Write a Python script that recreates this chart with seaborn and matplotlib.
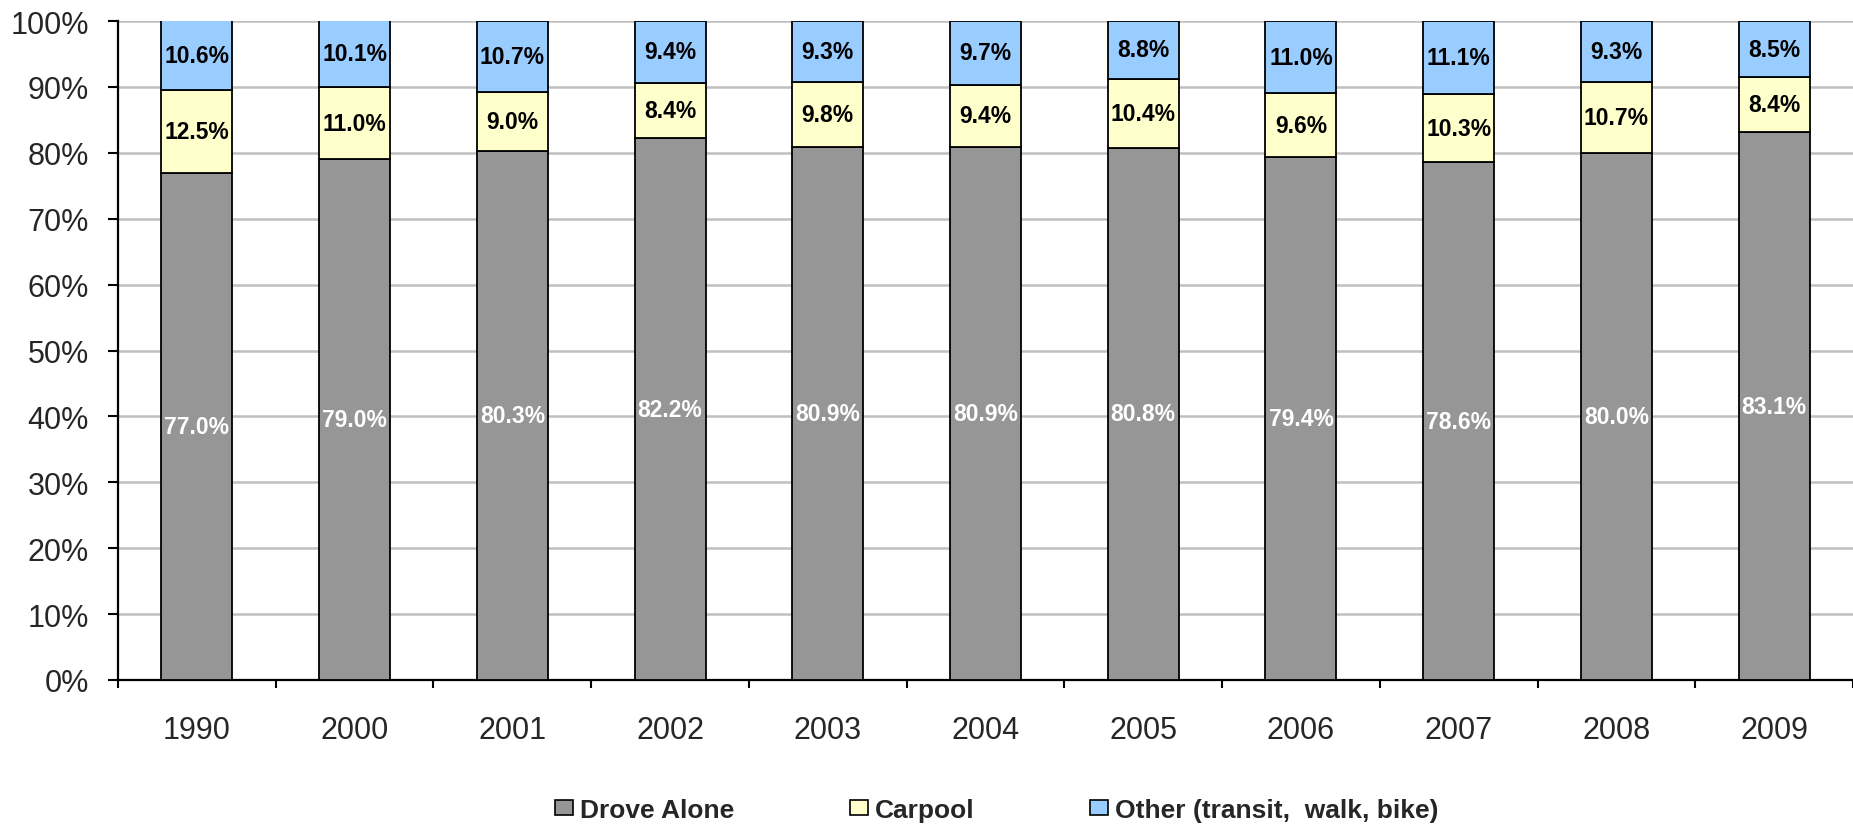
import matplotlib
matplotlib.use("Agg")
import matplotlib.pyplot as plt
import seaborn as sns
import numpy as np
from matplotlib.patches import Patch
from matplotlib.ticker import FixedLocator

years = ["1990", "2000", "2001", "2002", "2003", "2004", "2005", "2006", "2007", "2008", "2009"]
drove_alone = [77.0, 79.0, 80.3, 82.2, 80.9, 80.9, 80.8, 79.4, 78.6, 80.0, 83.1]
carpool = [12.5, 11.0, 9.0, 8.4, 9.8, 9.4, 10.4, 9.6, 10.3, 10.7, 8.4]
other = [10.6, 10.1, 10.7, 9.4, 9.3, 9.7, 8.8, 11.0, 11.1, 9.3, 8.5]
series_names = ["Drove Alone", "Carpool", "Other (transit,  walk, bike)"]
colors = ["#969696", "#FFFFCC", "#99CCFF"]

sns.set_theme(style="white")
plt.rcParams['font.family'] = ['Liberation Sans', 'DejaVu Sans']

fig = plt.figure(figsize=(18.53, 8.28), dpi=100)
ax = fig.add_axes([118/1853, 1-681/828, 1-118/1853, (681-22)/828])

bottom = np.zeros(len(years))
label_colors = ["white", "black", "black"]
for vals, col, lc in zip([drove_alone, carpool, other], colors, label_colors):
    sns.barplot(x=years, y=vals, bottom=bottom, color=col, width=0.45,
                edgecolor="black", linewidth=1.3, saturation=1, ax=ax, zorder=3)
    cont = ax.containers[-1]
    ax.bar_label(cont, labels=[f"{v:.1f}%" for v in vals], label_type="center",
                 color=lc, fontsize=16.5, fontweight="bold")
    bottom = bottom + np.array(vals)

ax.set_ylim(0, 100)
ax.set_xlim(-0.5, len(years) - 0.5)
ax.set_yticks(np.arange(0, 101, 10))
ax.set_yticklabels([f"{v}%" for v in range(0, 101, 10)], fontsize=22)
ax.yaxis.grid(True, color="#c0c0c0", linewidth=1.8, zorder=0)
ax.set_axisbelow(True)
ax.tick_params(axis="y", which="major", length=7, width=1.5, color="black", left=True, pad=14)
ax.tick_params(axis="x", which="major", length=0, labelsize=22, pad=25)
ax.xaxis.set_minor_locator(FixedLocator(np.arange(-0.5, len(years), 1.0)))
ax.tick_params(axis="x", which="minor", length=6, width=1.5, color="black", bottom=True, direction="out")
for s in ["top", "right"]:
    ax.spines[s].set_visible(False)
for s in ["left", "bottom"]:
    ax.spines[s].set_color("black")
    ax.spines[s].set_linewidth(1.6)
ax.set_xlabel("")
ax.set_ylabel("")

handles = [Patch(facecolor=c, edgecolor="black", linewidth=1.2) for c in colors]
fig.legend(handles, series_names, loc="center left", bbox_to_anchor=(555/1853, 1-811/828), ncol=3,
           frameon=False, borderpad=0, borderaxespad=0,
           handlelength=0.68, handleheight=0.5, handletextpad=0.25,
           columnspacing=4.4, prop={"weight": "bold", "size": 19})

fig.savefig("out.png", dpi=100)
